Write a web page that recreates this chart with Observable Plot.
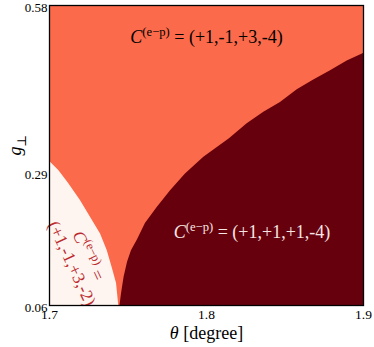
<!DOCTYPE html>
<html>
<head>
<meta charset="utf-8">
<script src="https://cdn.jsdelivr.net/npm/d3@7"></script>
<script src="https://cdn.jsdelivr.net/npm/@observablehq/plot@0.6"></script>
<style>
  html, body { margin: 0; padding: 0; background: white; }
</style>
</head>
<body>
<div id="chart"></div>
<script>
// Axis ticks
const thetaTicks = [1.7, 1.8, 1.9];
const gTicks = [0.06, 0.29, 0.58];

// Boundary of the light region (lower left): g -> theta
const whiteG     = [0.310, 0.294, 0.271, 0.242, 0.213, 0.184, 0.155, 0.126, 0.098, 0.060];
const whiteTheta = [1.7000, 1.7059, 1.7123, 1.7197, 1.7261, 1.7325, 1.7368, 1.7399, 1.7427, 1.7441];

// Boundary of the dark region (lower right): theta -> g
const darkTheta = [1.7449, 1.7459, 1.7475, 1.7497, 1.7522, 1.7559, 1.7611, 1.7686, 1.7771, 1.7866,
                   1.7983, 1.8146, 1.8259, 1.8365, 1.8471, 1.8578, 1.8683, 1.8790, 1.8896, 1.9000];
const darkG     = [0.060, 0.081, 0.109, 0.135, 0.155, 0.173, 0.202, 0.230, 0.259, 0.288,
                   0.317, 0.349, 0.375, 0.395, 0.412, 0.434, 0.451, 0.467, 0.484, 0.497];

// Region colours (Reds colormap) and labels
const regionColors = ["#fff5f0", "#fb6a4a", "#67000d"];
const regionLabels = [
  "*C*^{(e−p)} = (+1,-1,+3,-4)",
  "*C*^{(e−p)} = (+1,+1,+1,-4)",
  "*C*^{(e−p)} =\n(+1,-1,+3,-2)"
];
const xLabel = "*θ* [degree]";
const yLabel = "*g*_{⊥}";

const white = whiteG.map((g, i) => ({g, theta: whiteTheta[i]}));
const dark = darkTheta.map((theta, i) => ({theta, g: darkG[i]}));

const SERIF = '"Liberation Serif", "Times New Roman", "DejaVu Serif", serif';

const plot = Plot.plot({
  width: 374,
  height: 347,
  marginLeft: 49,
  marginRight: 11,
  marginTop: 5,
  marginBottom: 42,
  style: {fontSize: "13px", background: "white", overflow: "visible", color: "black"},
  x: {domain: [thetaTicks[0], thetaTicks[2]], label: null},
  y: {domain: [gTicks[0], gTicks[2]], label: null},
  marks: [
    Plot.frame({fill: regionColors[1]}),
    Plot.areaX(white, {y: "g", x1: () => thetaTicks[0], x2: "theta", fill: regionColors[0]}),
    Plot.areaY(dark, {x: "theta", y1: () => gTicks[0], y2: "g", fill: regionColors[2]}),
    Plot.text([regionLabels[0]], {text: d => d, x: () => 1.800, y: () => 0.5245, fill: "black", fontSize: 18}),
    Plot.text([regionLabels[1]], {text: d => d, x: () => 1.829, y: () => 0.1865, fill: "#f6e6e4", fontSize: 18}),
    Plot.text([regionLabels[2]], {text: d => d, x: () => 1.7197, y: () => 0.1397, fill: "#bb2a2e", fontSize: 17.5, rotate: 65, lineHeight: 1.05}),
    Plot.axisX(thetaTicks, {tickSize: 0, tickPadding: 4, tickFormat: d => d.toFixed(1), fontSize: 13.5, label: null}),
    Plot.axisY(gTicks, {tickSize: 0, tickPadding: 2, dy: 2, tickFormat: d => d.toFixed(2), fontSize: 13, label: null}),
    Plot.text([xLabel], {text: d => d, frameAnchor: "bottom", dy: 33, fontSize: 18, fill: "black"}),
    Plot.text([yLabel], {text: d => d, frameAnchor: "left", dx: -34, rotate: -90, fontSize: 18, fill: "black"}),
    Plot.frame({stroke: "black", strokeWidth: 1.3})
  ]
});

plot.setAttribute("font-family", SERIF);
plot.style.setProperty("font-family", SERIF, "important");
document.getElementById("chart").appendChild(plot);

// Turn light markup (*italic*, ^{sup}, _{sub}) into SVG tspans
const NS = "http://www.w3.org/2000/svg";
function rich(el) {
  const s = el.textContent;
  if (!/\^\{|_\{|\*/.test(s)) return;
  const fs = parseFloat(getComputedStyle(el).fontSize);
  el.textContent = "";
  const parts = s.split(/(\^\{[^}]*\}|_\{[^}]*\}|\*[^*]+\*)/).filter(p => p);
  let restore = 0;
  for (const p of parts) {
    const t = document.createElementNS(NS, "tspan");
    if (p.startsWith("^{")) {
      const sh = 0.42 * fs;
      t.textContent = p.slice(2, -1);
      t.setAttribute("font-size", 0.7 * fs);
      t.setAttribute("dy", -sh + restore);
      restore = sh;
    } else if (p.startsWith("_{")) {
      const sh = 0.28 * fs;
      t.textContent = p.slice(2, -1);
      t.setAttribute("font-size", 0.7 * fs);
      t.setAttribute("dy", sh + restore);
      restore = -sh;
    } else {
      if (p.startsWith("*") && p.endsWith("*") && p.length > 1) {
        t.textContent = p.slice(1, -1);
        t.setAttribute("font-style", "italic");
      } else {
        t.textContent = p;
      }
      if (restore) { t.setAttribute("dy", restore); restore = 0; }
    }
    el.appendChild(t);
  }
}
plot.querySelectorAll("text").forEach(txt => {
  txt.style.setProperty("font-family", SERIF, "important");
  const lines = txt.querySelectorAll(":scope > tspan");
  if (lines.length) lines.forEach(rich); else rich(txt);
});
</script>
</body>
</html>
